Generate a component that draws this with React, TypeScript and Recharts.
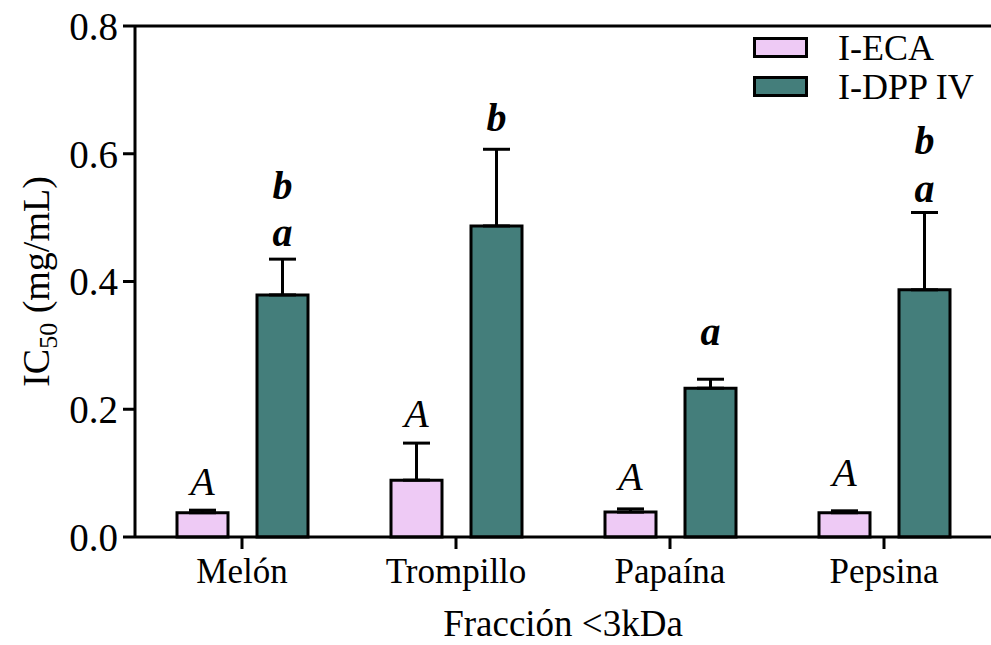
import React from 'react';
import { BarChart, Bar, XAxis, YAxis, ErrorBar, LabelList, Legend, ReferenceLine } from 'recharts';

const FONT = '"Liberation Serif", "Times New Roman", serif';

// values
const categories = ['Melón', 'Trompillo', 'Papaína', 'Pepsina'];
const ecaValues = [0.038, 0.089, 0.039, 0.038];
const ecaErrors = [0.004, 0.058, 0.005, 0.003];
const dppValues = [0.379, 0.487, 0.233, 0.387];
const dppErrors = [0.056, 0.12, 0.014, 0.121];

// significance letters and the height (mg/mL) of their baseline
const ecaLetters = [['A'], ['A'], ['A'], ['A']];
const ecaLetterPos = [[0.066], [0.172], [0.074], [0.08]];
const dppLetters = [['b', 'a'], ['b'], ['a'], ['b', 'a']];
const dppLetterPos = [[0.529, 0.456], [0.635], [0.301], [0.599, 0.525]];

const yTicks = [0, 0.2, 0.4, 0.6, 0.8];
const seriesNames = ['I-ECA', 'I-DPP IV'];

const ECA_COLOR = '#EECAF5';
const DPP_COLOR = '#447E7B';

const data = categories.map((name, i) => ({
    name,
    eca: ecaValues[i],
    ecaErr: [0, ecaErrors[i]],
    dpp: dppValues[i],
    dppErr: [0, dppErrors[i]],
}));

const letterRenderer = (letters: string[][], positions: number[][], values: number[], bold: boolean) =>
    (props: any) => {
        const vb = props.viewBox && props.viewBox.width != null ? props.viewBox : props;
        const { x, y, width, height } = vb;
        const index = props.index;
        if (index == null || !letters[index]) return null;
        const k = height / values[index];
        const base = y + height;
        return (
            <g>
                {letters[index].map((t, j) => (
                    <text
                        key={j}
                        x={x + width / 2}
                        y={base - positions[index][j] * k}
                        textAnchor="middle"
                        fontFamily={FONT}
                        fontSize={40}
                        fontStyle="italic"
                        fontWeight={bold ? 'bold' : 'normal'}
                        fill="#000"
                    >
                        {t}
                    </text>
                ))}
            </g>
        );
    };

const LegendBox = ({ payload }: any) => {
    const items = [...(payload || [])].sort(
        (a: any, b: any) => seriesNames.indexOf(a.value) - seriesNames.indexOf(b.value)
    );
    return (
        <svg width={238} height={90} style={{ overflow: 'visible', display: 'block' }}>
            {items.map((p: any, i: number) => (
                <g key={p.value} transform={`translate(0, ${i * 39})`}>
                    <rect x={1.5} y={1.5} width={52} height={18} fill={p.color} stroke="#000" strokeWidth={3} />
                    <text x={85} y={23} fontFamily={FONT} fontSize={36} fill="#000">{p.value}</text>
                </g>
            ))}
        </svg>
    );
};

const YLabel = ({ viewBox }: any) => {
    const cy = viewBox.y + viewBox.height / 2;
    return (
        <text
            transform={`translate(49, ${cy}) rotate(-90)`}
            textAnchor="middle"
            fontFamily={FONT}
            fontSize={38}
            fill="#000"
        >
            IC<tspan fontSize={26} dy={8}>50</tspan><tspan dy={-8}> (mg/mL)</tspan>
        </text>
    );
};

const XLabel = ({ viewBox }: any) => (
    <text
        x={viewBox.x + viewBox.width / 2}
        y={viewBox.y + 99}
        textAnchor="middle"
        fontFamily={FONT}
        fontSize={37}
        fill="#000"
    >
        Fracción &lt;3kDa
    </text>
);

const App: React.FC = () => {
    return (
        <div style={{ position: 'absolute', left: 0, top: 0, background: '#fff' }}>
            <BarChart
                width={991}
                height={645}
                data={data}
                margin={{ top: 26, right: 0, bottom: 0, left: 0 }}
                barSize={51}
                barGap={29}
            >
                <XAxis
                    dataKey="name"
                    height={108}
                    axisLine={{ stroke: '#000', strokeWidth: 3 }}
                    tickLine={{ stroke: '#000', strokeWidth: 3 }}
                    tickSize={12}
                    tickMargin={9}
                    tick={{ fill: '#000', fontSize: 35, fontFamily: FONT }}
                    label={<XLabel />}
                />
                <YAxis
                    width={135}
                    domain={[0, 0.8]}
                    ticks={yTicks}
                    tickFormatter={(v: number) => v.toFixed(1)}
                    axisLine={{ stroke: '#000', strokeWidth: 3 }}
                    tickLine={{ stroke: '#000', strokeWidth: 3 }}
                    tickSize={12}
                    tickMargin={5}
                    tick={{ fill: '#000', fontSize: 39, fontFamily: FONT }}
                    label={<YLabel />}
                />
                <ReferenceLine y={0.8} stroke="#000" strokeWidth={3} />
                <Legend
                    layout="vertical"
                    align="center"
                    verticalAlign="middle"
                    wrapperStyle={{ left: 753, top: 37, width: 238, height: 90, overflow: 'visible' }}
                    content={<LegendBox />}
                />
                <Bar dataKey="eca" name="I-ECA" fill={ECA_COLOR} stroke="#000" strokeWidth={3} isAnimationActive={false}>
                    <ErrorBar dataKey="ecaErr" width={13.5} stroke="#000" strokeWidth={3} />
                    <LabelList dataKey="eca" content={letterRenderer(ecaLetters, ecaLetterPos, ecaValues, false)} />
                </Bar>
                <Bar dataKey="dpp" name="I-DPP IV" fill={DPP_COLOR} stroke="#000" strokeWidth={3} isAnimationActive={false}>
                    <ErrorBar dataKey="dppErr" width={13.5} stroke="#000" strokeWidth={3} />
                    <LabelList dataKey="dpp" content={letterRenderer(dppLetters, dppLetterPos, dppValues, true)} />
                </Bar>
            </BarChart>
        </div>
    );
};

export default App;
